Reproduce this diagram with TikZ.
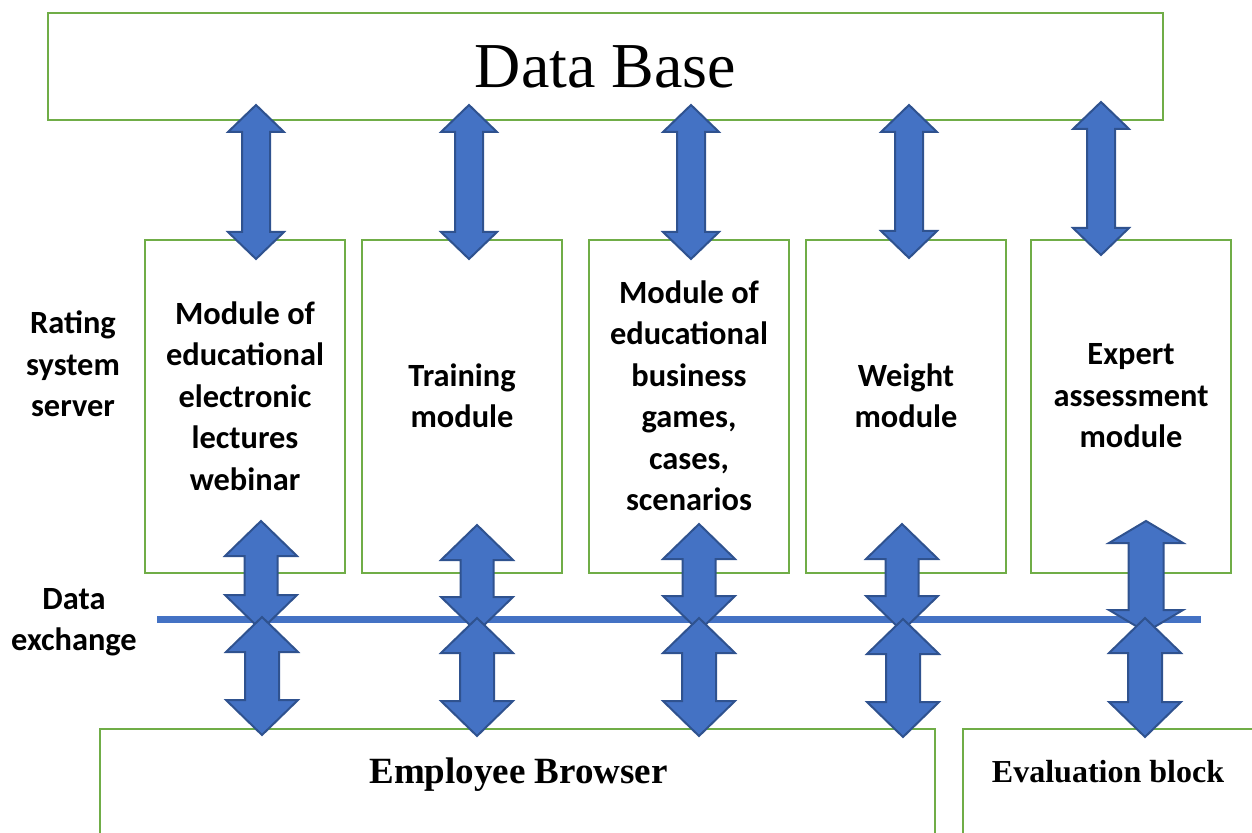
\documentclass[tikz,border=0pt]{standalone}
\usepackage{fontspec}
\setmainfont{Liberation Serif}
\newfontfamily\calibri{Carlito}
\usetikzlibrary{positioning,calc}

\definecolor{boxgreen}{HTML}{70AD47}
\definecolor{arrblue}{HTML}{4472C4}
\definecolor{arrdark}{HTML}{2F528F}

% top tip, bottom tip, head half width, shaft half width, head length
\newcommand{\dblarrow}[5]{%
  \draw[blockarr] (#1) -- ($(#1)+(#3,#5)$) -- ($(#1)+(#4,#5)$) -- ($(#2)+(#4,-#5)$)
    -- ($(#2)+(#3,-#5)$) -- (#2) -- ($(#2)+(-#3,-#5)$) -- ($(#2)+(-#4,-#5)$)
    -- ($(#1)+(-#4,#5)$) -- ($(#1)+(-#3,#5)$) -- cycle;}

\begin{document}
\begin{tikzpicture}[x=0.5pt, y=-0.5pt,
    box/.style = {draw=boxgreen, line width=1.4pt, rectangle, inner sep=0pt},
    modbox/.style = {box, minimum width=100pt, minimum height=166.5pt},
    modtext/.style = {align=center, font=\calibri\bfseries\fontsize{16.2}{20.75}\selectfont},
    blockarr/.style = {fill=arrblue, draw=arrdark, line width=1pt, line join=miter},
    dataline/.style = {draw=arrblue, line width=3.5pt}]
        \useasboundingbox (0,0) rectangle (1252,833);

        % boxes
        \node[box, minimum width=557.5pt, minimum height=53.5pt,
              font=\fontsize{32}{38}\selectfont] (db) at (605.5,66.5) {Data Base};
        \node[modbox] (m1) at (245,406.5) {};
        \node[modbox] (m2) at (462,406.5) {};
        \node[modbox] (m3) at (689,406.5) {};
        \node[modbox] (m4) at (906,406.5) {};
        \node[modbox] (m5) at (1131,406.5) {};
        \node[box, minimum width=417.5pt, minimum height=100pt] (eb) at (517.5,829) {};
        \node[box, minimum width=168.5pt, minimum height=100pt] (ev) at (1131.5,829) {};

        % data exchange bus
        \coordinate (bus1) at (157,619);
        \coordinate (bus2) at (1201,619);
        \draw[dataline] (bus1) -- (bus2);

        % data base <-> modules
        \coordinate (u1) at (256,105);  \coordinate (d1) at (256,259);
        \coordinate (u2) at (469,105);  \coordinate (d2) at (469,259);
        \coordinate (u3) at (691,105);  \coordinate (d3) at (691,259);
        \coordinate (u4) at (909,105);  \coordinate (d4) at (909,258);
        \coordinate (u5) at (1101,102); \coordinate (d5) at (1101,255);
        \dblarrow{u1}{d1}{28}{14}{27}
        \dblarrow{u2}{d2}{28}{14}{27}
        \dblarrow{u3}{d3}{28}{14}{27}
        \dblarrow{u4}{d4}{28}{14}{27}
        \dblarrow{u5}{d5}{28}{14}{27}

        % modules <-> bus
        \coordinate (p1) at (261,521);  \coordinate (q1) at (261,630);
        \coordinate (p2) at (477,525);  \coordinate (q2) at (477,632);
        \coordinate (p3) at (699,524);  \coordinate (q3) at (699,631);
        \coordinate (p4) at (902,524);  \coordinate (q4) at (902,631);
        \coordinate (p5) at (1146,521); \coordinate (q5) at (1146,632);
        \dblarrow{p1}{q1}{36}{16.5}{35}
        \dblarrow{p2}{q2}{36}{16.5}{35}
        \dblarrow{p3}{q3}{36}{16.5}{35}
        \dblarrow{p4}{q4}{36}{16.5}{35}
        \dblarrow{p5}{q5}{37}{17.5}{22}

        % bus <-> browser and evaluation block
        \coordinate (r1) at (262,617);  \coordinate (s1) at (262,735);
        \coordinate (r2) at (477,618);  \coordinate (s2) at (477,736);
        \coordinate (r3) at (699,618);  \coordinate (s3) at (699,736);
        \coordinate (r4) at (903,619);  \coordinate (s4) at (903,737);
        \coordinate (r5) at (1145,618); \coordinate (s5) at (1145,737);
        \dblarrow{r1}{s1}{36}{17}{35}
        \dblarrow{r2}{s2}{36}{17}{35}
        \dblarrow{r3}{s3}{36}{17}{35}
        \dblarrow{r4}{s4}{36}{17}{35}
        \dblarrow{r5}{s5}{36}{17}{35}

        % texts
        \node[modtext] (t1) at (245,396) {Module of\\educational\\electronic\\lectures\\webinar};
        \node[modtext] (t2) at (462,396) {Training\\module};
        \node[modtext] (t3) at (689,396) {Module of\\educational\\business\\games,\\cases,\\scenarios};
        \node[modtext] (t4) at (906,396) {Weight\\module};
        \node[modtext] (t5) at (1131,396) {Expert\\assessment\\module};
        \node[modtext] (server) at (73,364) {Rating\\system\\server};
        \node[modtext] (exch) at (74,622) {Data\\exchange};
        \node[anchor=base, font=\bfseries\fontsize{18.5}{22}\selectfont] (ebt) at (518.5,783) {Employee Browser};
        \node[anchor=base, font=\bfseries\fontsize{16}{19}\selectfont] (evt) at (1108,782) {Evaluation block};
    \end{tikzpicture}
\end{document}
